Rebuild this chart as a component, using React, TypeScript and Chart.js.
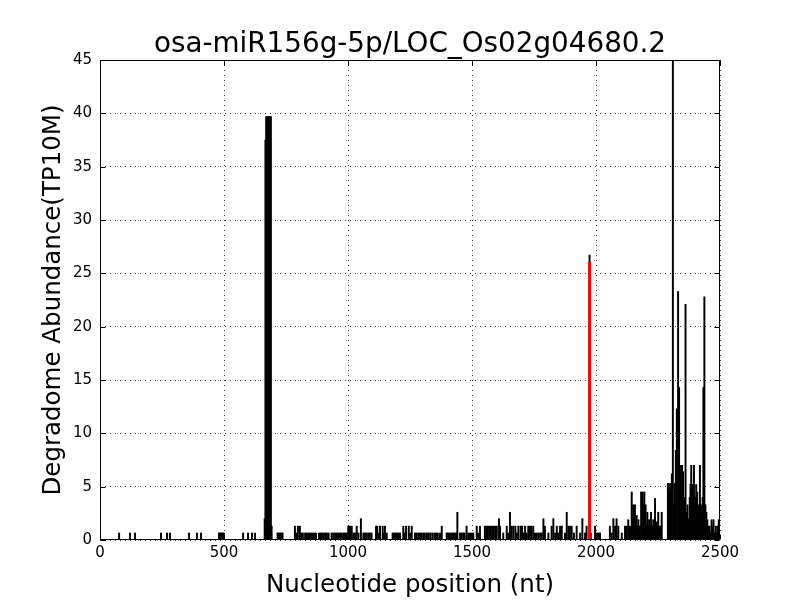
import React, { useEffect, useRef } from "react";
import { Chart, registerables } from "chart.js";

Chart.register(...registerables);

const TITLE = "osa-miR156g-5p/LOC_Os02g04680.2";
const X_LABEL = "Nucleotide position (nt)";
const Y_LABEL = "Degradome Abundance(TP10M)";
const X_MIN = 0;
const X_MAX = 2500;
const X_STEP = 500;
const Y_MIN = 0;
const Y_MAX = 45;
const Y_STEP = 5;

// Degradome read positions (nt) and abundances (TP10M)
const positions = [
  77, 121, 141, 246, 270, 282, 359, 391, 407,
  480, 484, 488, 492, 496, 500,
  577, 597, 613, 625,
  664, 667, 670, 674, 678, 682, 686, 689, 692,
  716, 720, 724, 728, 732, 736,
  786, 792, 798, 806, 812, 818, 827, 833, 839, 845, 851, 859, 865, 871, 883, 889, 895, 902, 908, 915, 922,
  934, 941, 948, 955, 961, 968, 975, 982, 988, 995,
  1001, 1008, 1012, 1015, 1022, 1028, 1035, 1042, 1052, 1062, 1068, 1075, 1082, 1088, 1095,
  1113, 1118, 1124, 1129, 1140, 1145, 1149, 1156, 1180, 1186, 1192, 1198, 1204, 1210,
  1223, 1228, 1234, 1245, 1250, 1257, 1270, 1276, 1283, 1290, 1296, 1303, 1310, 1318, 1325, 1332, 1340,
  1348, 1355, 1362, 1371, 1378, 1398, 1404, 1411, 1418, 1424, 1430, 1436, 1441, 1452, 1458, 1464, 1470,
  1478, 1485, 1492, 1499, 1505, 1519, 1525, 1532, 1552, 1558, 1564, 1570, 1576, 1582, 1588, 1594, 1600,
  1609, 1613, 1626, 1640, 1646, 1653, 1660, 1667, 1675, 1681, 1687,
  1696, 1702, 1708, 1714, 1720, 1727, 1734, 1740, 1747, 1754, 1761, 1768, 1775, 1781, 1788, 1794, 1808,
  1821, 1828, 1835, 1842, 1848, 1855, 1862, 1875, 1882, 1889, 1895, 1902, 1911, 1922, 1936, 1945, 1956,
  1962, 1974, 1979, 1996, 2003, 2009, 2016, 2056, 2063, 2070, 2077, 2083, 2090, 2104, 2117, 2124, 2130, 2137,
  2144, 2147, 2150, 2154, 2157, 2160, 2164, 2167, 2171, 2174, 2177, 2182, 2185, 2188, 2191, 2195, 2198,
  2200, 2204, 2207, 2210, 2214, 2218, 2222, 2226, 2231, 2234, 2238, 2241, 2245, 2248, 2251, 2255, 2258,
  2261, 2265,
  2290, 2294, 2298, 2302, 2306, 2310, 2314, 2318, 2322, 2326, 2331, 2335, 2339, 2343, 2347, 2351, 2355,
  2358, 2361, 2365, 2369, 2374, 2378, 2381, 2384, 2388, 2392, 2395, 2400, 2404, 2408, 2412, 2416, 2419,
  2423, 2427, 2430, 2433, 2437, 2441, 2445, 2449, 2453, 2458, 2462, 2466, 2470, 2474, 2478, 2483, 2487,
  2491, 2495,
];

const abundance = [
  0.66, 0.66, 0.66, 0.66, 0.66, 0.66, 0.66, 0.66, 0.66,
  0.66, 0.66, 0.66, 0.66, 0.66, 0.66,
  0.66, 0.66, 0.66, 0.66,
  2.0, 37.5, 39.7, 39.7, 39.7, 39.7, 39.7, 39.7, 1.3,
  0.66, 0.66, 0.66, 0.66, 0.66, 0.66,
  1.3, 0.66, 1.3, 1.3, 0.66, 0.66, 0.66, 0.66, 0.66, 0.66, 0.66, 0.66, 0.66, 0.66, 0.66, 0.66, 0.66, 0.66, 0.66, 0.66, 0.66,
  0.66, 0.66, 0.66, 0.66, 0.66, 0.66, 0.66, 0.66, 0.66, 0.66,
  1.3, 1.3, 0.66, 1.3, 0.66, 0.66, 1.3, 0.66, 2.0, 0.66, 0.66, 0.66, 0.66, 0.66, 0.66,
  1.3, 1.3, 0.66, 1.3, 1.3, 0.66, 1.3, 0.66, 0.66, 0.66, 0.66, 0.66, 0.66, 0.66,
  1.3, 0.66, 1.3, 1.3, 0.66, 1.3, 0.66, 0.66, 0.66, 0.66, 0.66, 0.66, 0.66, 0.66, 0.66, 0.66, 0.66,
  0.66, 0.66, 0.66, 0.66, 1.3, 0.66, 0.66, 0.66, 0.66, 0.66, 0.66, 0.66, 2.6, 0.66, 0.66, 0.66, 0.66,
  1.3, 0.66, 0.66, 0.66, 0.66, 1.3, 0.66, 1.3, 1.3, 1.3, 1.3, 1.3, 1.3, 1.3, 1.3, 1.3, 1.3,
  2.0, 1.3, 0.66, 1.3, 0.66, 2.6, 1.3, 1.3, 1.3, 0.66, 1.3,
  1.3, 1.3, 0.66, 1.3, 0.66, 1.3, 1.3, 1.3, 1.3, 0.66, 0.66, 0.66, 0.66, 0.66, 2.0, 1.3, 0.66,
  1.3, 2.0, 0.66, 1.3, 0.66, 1.3, 1.3, 0.66, 2.6, 1.3, 1.3, 1.3, 0.66, 1.3, 0.66, 2.0, 0.66,
  1.3, 26.7, 0.66, 1.3, 0.66, 0.66, 0.66, 1.3, 0.66, 2.0, 1.3, 2.0, 1.3, 0.66, 1.3, 1.3, 1.9, 1.3,
  4.5, 2.0, 3.3, 1.3, 3.3, 1.9, 2.3, 1.3, 1.9, 0.66, 1.3, 4.5, 2.6, 4.5, 3.3, 4.5, 2.0,
  3.3, 1.3, 2.6, 1.3, 1.9, 1.3, 2.6, 1.3, 1.9, 1.3, 3.9, 1.3, 1.7, 1.3, 2.6, 0.66, 1.3,
  1.3, 2.6,
  5.3, 5.3, 4.6, 5.3, 6.2, 50, 3.3, 5.3, 8.4, 12.3, 23.3, 14.3, 6.4, 7.0, 7.0, 6.4, 4.0,
  2.6, 22.1, 2.6, 3.3, 2.0, 4.0, 5.2, 7.0, 5.2, 4.5, 7.0, 4.0, 5.2, 4.5, 3.3, 2.6, 7.0,
  3.3, 2.6, 4.0, 14.3, 22.8, 3.3, 2.6, 1.9, 1.3, 1.3, 0.66, 1.9, 1.3, 1.9, 0.66, 1.3, 0.66,
  1.3, 1.9,
];

// miRNA target (cleavage) site
const targetPosition = [1974];
const targetAbundance = [26.0];

const FONT = "DejaVu Sans";

export default function App() {
  const ref = useRef<HTMLCanvasElement | null>(null);

  useEffect(() => {
    const canvas = ref.current;
    if (!canvas) return;

    const framePlugin = {
      id: "frameTicks",
      afterDatasetsDraw(chart: any) {
        const { ctx, chartArea: a, scales } = chart;
        const L = 5;
        ctx.save();
        ctx.strokeStyle = "#000";
        ctx.lineWidth = 1;
        ctx.beginPath();
        const left = Math.round(a.left) + 0.5;
        const right = Math.round(a.right) - 0.5;
        const top = Math.round(a.top) + 0.5;
        const bottom = Math.round(a.bottom) - 0.5;
        ctx.rect(left, top, right - left, bottom - top);
        scales.x.ticks.forEach((t: any) => {
          const px = Math.round(scales.x.getPixelForValue(t.value)) + 0.5;
          ctx.moveTo(px, bottom);
          ctx.lineTo(px, bottom - L);
          ctx.moveTo(px, top);
          ctx.lineTo(px, top + L);
        });
        scales.y.ticks.forEach((t: any) => {
          const py = Math.round(scales.y.getPixelForValue(t.value)) + 0.5;
          ctx.moveTo(left, py);
          ctx.lineTo(left + L, py);
          ctx.moveTo(right, py);
          ctx.lineTo(right - L, py);
        });
        ctx.stroke();
        ctx.restore();
      },
    };

    const chart = new Chart(canvas, {
      type: "bar",
      data: {
        datasets: [
          {
            label: "target",
            data: targetPosition.map((x, i) => ({ x, y: targetAbundance[i] })),
            backgroundColor: "#ff0000",
            borderWidth: 0,
            barThickness: 2.3,
            grouped: false,
            order: 0,
          } as any,
          {
            label: "reads",
            data: positions.map((x, i) => ({ x, y: abundance[i] })),
            backgroundColor: "#000000",
            borderWidth: 0,
            barThickness: 1.3,
            grouped: false,
            order: 1,
          } as any,
        ],
      },
      plugins: [framePlugin],
      options: {
        responsive: false,
        animation: false,
        devicePixelRatio: 1,
        layout: { padding: { left: 0, right: 80, top: 0, bottom: 0 } },
        plugins: {
          legend: { display: false },
          tooltip: { enabled: false },
          title: {
            display: true,
            fullSize: false,
            text: TITLE,
            color: "#000",
            font: { family: FONT, size: 27.8, weight: "normal", lineHeight: 1 },
            padding: { top: 31, bottom: 1.2 },
          },
        },
        scales: {
          x: {
            type: "linear",
            min: X_MIN,
            max: X_MAX,
            offset: false,
            ticks: {
              stepSize: X_STEP,
              color: "#000",
              font: { family: FONT, size: 15 },
              padding: 4,
              maxRotation: 0,
              autoSkip: false,
              callback: (v: any) => String(v),
            },
            grid: { color: "rgba(0,0,0,0.75)", lineWidth: 1, drawTicks: false, offset: false },
            border: { display: false, dash: [1, 4] },
            title: {
              display: true,
              text: X_LABEL,
              color: "#000",
              font: { family: FONT, size: 24.5, lineHeight: 1.2 },
              padding: { top: 6, bottom: 0 },
            },
            afterFit: (s: any) => {
              s.height = 60;
            },
          },
          y: {
            min: Y_MIN,
            max: Y_MAX,
            ticks: {
              stepSize: Y_STEP,
              color: "#000",
              font: { family: FONT, size: 15 },
              padding: 8,
              callback: (v: any) => String(v),
            },
            grid: { color: "rgba(0,0,0,0.75)", lineWidth: 1, drawTicks: false },
            border: { display: false, dash: [1, 4] },
            title: {
              display: true,
              text: Y_LABEL,
              color: "#000",
              font: { family: FONT, size: 24.5, lineHeight: 1.2 },
              padding: { top: 39, bottom: 0 },
            },
            afterFit: (s: any) => {
              s.width = 100;
            },
          },
        },
      } as any,
    });

    return () => {
      chart.destroy();
    };
  }, []);

  return (
    <div style={{ position: "fixed", left: 0, top: 0, width: 800, height: 600, background: "#fff" }}>
      <canvas ref={ref} width={800} height={600} />
    </div>
  );
}
